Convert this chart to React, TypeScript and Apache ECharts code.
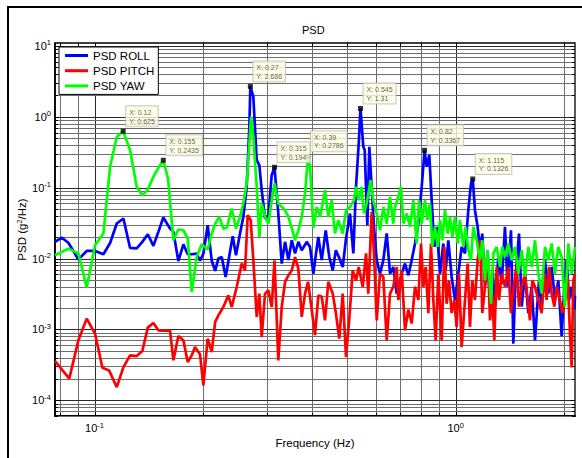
import React, { useEffect, useRef } from 'react';
import * as echarts from 'echarts';

const FONT = '"Liberation Sans", Arial, Helvetica, sans-serif';

const xMin = 0.0777;
const xMax = 2.14;
const yMin = 6e-5;
const yMax = 11;

const seriesNames = ['PSD ROLL', 'PSD PITCH', 'PSD YAW'];
const seriesColors = ['#0000FF', '#FF0000', '#00FF00'];

const rollData: [number, number][] = [
  [0.0777, 0.0172], [0.0811, 0.0198], [0.0847, 0.0166], [0.0902, 0.0097], [0.0951, 0.0128],
  [0.1003, 0.0128], [0.1058, 0.0115], [0.1104, 0.0166], [0.1152, 0.0312], [0.1202, 0.0367],
  [0.1254, 0.0141], [0.1308, 0.0139], [0.1356, 0.0172], [0.1404, 0.022], [0.1455, 0.0151],
  [0.1502, 0.0238], [0.155, 0.0379], [0.1618, 0.0265], [0.1653, 0.0238], [0.1706, 0.0092],
  [0.1762, 0.0159], [0.1811, 0.0115], [0.1858, 0.0115], [0.1918, 0.0117], [0.1959, 0.0093],
  [0.2001, 0.0117], [0.2057, 0.0295], [0.2111, 0.0093], [0.2157, 0.0067], [0.2202, 0.01],
  [0.225, 0.0105], [0.2307, 0.0055], [0.2413, 0.0207], [0.2464, 0.0111], [0.2528, 0.0226],
  [0.2582, 0.0387], [0.2638, 0.103], [0.2683, 0.72], [0.27, 2.686], [0.2752, 1.92],
  [0.2812, 0.245], [0.2859, 0.208], [0.2903, 0.092], [0.2965, 0.0367], [0.3029, 0.041],
  [0.3094, 0.15], [0.315, 0.194], [0.3227, 0.0432], [0.3298, 0.0085], [0.3369, 0.0172],
  [0.3441, 0.0095], [0.3516, 0.0181], [0.3591, 0.0118], [0.3667, 0.0172], [0.3747, 0.0131],
  [0.3868, 0.0172], [0.3951, 0.0146], [0.4035, 0.0061], [0.4104, 0.0118], [0.4165, 0.0202],
  [0.4256, 0.0095], [0.4366, 0.025], [0.4467, 0.0105], [0.4566, 0.0068], [0.4658, 0.0131],
  [0.4761, 0.0102], [0.4866, 0.0076], [0.4969, 0.0191], [0.5098, 0.0432], [0.5206, 0.0118],
  [0.5297, 0.103], [0.5389, 0.42], [0.545, 1.31], [0.5549, 0.377], [0.5598, 0.34],
  [0.5693, 0.0295], [0.5766, 0.377], [0.5853, 0.103], [0.594, 0.0275], [0.6044, 0.0095],
  [0.6172, 0.0061], [0.6304, 0.0095], [0.6442, 0.0226], [0.6579, 0.0061], [0.6718, 0.0076],
  [0.6866, 0.0032], [0.7087, 0.0061], [0.7239, 0.0085], [0.7395, 0.0058], [0.7554, 0.0095],
  [0.7716, 0.0163], [0.7882, 0.0312], [0.8052, 0.103], [0.82, 0.3367], [0.8311, 0.197],
  [0.8453, 0.29], [0.858, 0.0666], [0.8727, 0.0146], [0.8858, 0.028], [0.9048, 0.0061],
  [0.9242, 0.0163], [0.9381, 0.0068], [0.9541, 0.0181], [0.9746, 0.0055], [0.9955, 0.0026],
  [1.0169, 0.0061], [1.0388, 0.0146], [1.0611, 0.0118], [1.0839, 0.0481], [1.1025, 0.115],
  [1.115, 0.1326], [1.1308, 0.0481], [1.1503, 0.028], [1.1675, 0.0131], [1.185, 0.0225],
  [1.2054, 0.004], [1.2261, 0.0105], [1.2446, 0.0026], [1.2659, 0.0068], [1.2849, 0.0021],
  [1.3125, 0.0105], [1.3407, 0.0044], [1.3694, 0.028], [1.3929, 0.004], [1.4228, 0.0251],
  [1.4442, 0.00063], [1.466, 0.0061], [1.4975, 0.0225], [1.5232, 0.0021], [1.5558, 0.0061],
  [1.5892, 0.0017], [1.6234, 0.004], [1.6582, 0.0007], [1.701, 0.0049], [1.7302, 0.0021],
  [1.7673, 0.0095], [1.8053, 0.0032], [1.8441, 0.0076], [1.8838, 0.0026], [1.9242, 0.0049],
  [1.9656, 0.0008], [1.9992, 0.004], [2.0292, 0.0095], [2.0597, 0.0026], [2.0951, 0.004],
  [2.131, 0.0019], [2.14, 0.003],
];

const pitchData: [number, number][] = [
  [0.0777, 0.000358], [0.0851, 0.000202], [0.0902, 0.000702], [0.0951, 0.00142], [0.1003, 0.000873],
  [0.1051, 0.000288], [0.1097, 0.000264], [0.1152, 0.000153], [0.1202, 0.000294], [0.1254, 0.00043],
  [0.1308, 0.00042], [0.1356, 0.000496], [0.1404, 0.00106], [0.1455, 0.00123], [0.1502, 0.00097],
  [0.155, 0.00096], [0.1618, 0.00096], [0.1653, 0.000366], [0.1706, 0.000807], [0.1762, 0.000702],
  [0.1811, 0.000347], [0.1858, 0.00043], [0.1897, 0.000564], [0.1959, 0.000445], [0.2001, 0.000162],
  [0.2057, 0.000741], [0.2111, 0.00048], [0.2157, 0.00127], [0.2202, 0.00158], [0.2273, 0.00207],
  [0.2347, 0.00303], [0.2398, 0.00207], [0.2475, 0.00397], [0.2556, 0.0085], [0.261, 0.0068],
  [0.2655, 0.041], [0.2706, 0.0348], [0.2752, 0.0094], [0.2812, 0.0015], [0.2859, 0.0032],
  [0.2903, 0.00078], [0.2965, 0.0032], [0.3029, 0.00356], [0.3094, 0.00207], [0.315, 0.0094],
  [0.3227, 0.000366], [0.3298, 0.00207], [0.3369, 0.00467], [0.3441, 0.0058], [0.3516, 0.0068],
  [0.3591, 0.0105], [0.3667, 0.0072], [0.3747, 0.0015], [0.3827, 0.0032], [0.39, 0.0047],
  [0.3993, 0.0019], [0.4078, 0.00083], [0.4165, 0.003], [0.4256, 0.0029], [0.4347, 0.00134],
  [0.4439, 0.0047], [0.4566, 0.0032], [0.4658, 0.0017], [0.4761, 0.00074], [0.4866, 0.0032],
  [0.4969, 0.00041], [0.5075, 0.00142], [0.5186, 0.0068], [0.5297, 0.0049], [0.5389, 0.0076],
  [0.5528, 0.004], [0.5646, 0.0118], [0.5728, 0.0032], [0.5853, 0.0455], [0.594, 0.0118],
  [0.6044, 0.00134], [0.6172, 0.0061], [0.6304, 0.0055], [0.6442, 0.0007], [0.6579, 0.0032],
  [0.6718, 0.004], [0.6866, 0.0076], [0.6938, 0.0026], [0.7087, 0.0068], [0.7239, 0.00097],
  [0.7395, 0.0019], [0.7554, 0.00121], [0.7716, 0.004], [0.7882, 0.0026], [0.8017, 0.0163],
  [0.8137, 0.004], [0.8258, 0.0076], [0.84, 0.0017], [0.8544, 0.0163], [0.8672, 0.0026],
  [0.8802, 0.0007], [0.8953, 0.0061], [0.9144, 0.0007], [0.9301, 0.0146], [0.9441, 0.0023],
  [0.9582, 0.0049], [0.9746, 0.0017], [0.9913, 0.0026], [1.0062, 0.00108], [1.0213, 0.0061],
  [1.0388, 0.00056], [1.0611, 0.0026], [1.0793, 0.0085], [1.0954, 0.00108], [1.1118, 0.0049],
  [1.1308, 0.0026], [1.1503, 0.0095], [1.17, 0.0181], [1.185, 0.0017], [1.2054, 0.004],
  [1.2261, 0.0131], [1.2446, 0.00134], [1.2632, 0.0032], [1.2795, 0.0007], [1.2987, 0.0076],
  [1.3181, 0.0026], [1.3407, 0.0061], [1.3694, 0.004], [1.3988, 0.0076], [1.4228, 0.0017],
  [1.4473, 0.004], [1.4754, 0.0076], [1.4975, 0.0021], [1.5232, 0.004], [1.5558, 0.0061],
  [1.5825, 0.0026], [1.6062, 0.00134], [1.6304, 0.0049], [1.6582, 0.004], [1.6938, 0.0026],
  [1.7302, 0.0017], [1.7599, 0.0061], [1.7862, 0.0026], [1.813, 0.0076], [1.8441, 0.0032],
  [1.8757, 0.0021], [1.9039, 0.004], [1.9448, 0.0026], [1.9739, 0.0017], [2.0077, 0.0026],
  [2.0422, 0.0055], [2.0729, 0.00087], [2.0951, 0.00029], [2.1174, 0.0049], [2.14, 0.0061],
];

const yawData: [number, number][] = [
  [0.0777, 0.0111], [0.0847, 0.0138], [0.0902, 0.0118], [0.0951, 0.0039], [0.1003, 0.0154],
  [0.1058, 0.0226], [0.1104, 0.197], [0.1152, 0.52], [0.12, 0.625], [0.1254, 0.339],
  [0.1308, 0.103], [0.1356, 0.078], [0.1404, 0.094], [0.1455, 0.142], [0.1502, 0.19],
  [0.155, 0.2435], [0.1598, 0.133], [0.1653, 0.0181], [0.1706, 0.0257], [0.1762, 0.0251],
  [0.1811, 0.0191], [0.1858, 0.00337], [0.1918, 0.0105], [0.198, 0.0159], [0.2057, 0.0134],
  [0.2111, 0.0226], [0.2157, 0.031], [0.2215, 0.0387], [0.2273, 0.0265], [0.2323, 0.027],
  [0.2398, 0.0508], [0.2464, 0.0265], [0.2528, 0.0387], [0.2582, 0.0598], [0.2638, 0.115],
  [0.2683, 0.42], [0.2713, 1.0], [0.2752, 0.52], [0.2812, 0.103], [0.2859, 0.0202],
  [0.2903, 0.0598], [0.2965, 0.0387], [0.3029, 0.031], [0.3094, 0.0666], [0.315, 0.115],
  [0.3227, 0.0598], [0.3298, 0.0536], [0.3369, 0.048], [0.3441, 0.0387], [0.3516, 0.027],
  [0.3591, 0.0181], [0.3667, 0.025], [0.3747, 0.0387], [0.3827, 0.0828], [0.39, 0.2786],
  [0.3951, 0.197], [0.4035, 0.027], [0.4123, 0.0536], [0.4211, 0.0387], [0.4347, 0.092],
  [0.4439, 0.0387], [0.4536, 0.0666], [0.4632, 0.0226], [0.4731, 0.0345], [0.4866, 0.0226],
  [0.4969, 0.048], [0.5098, 0.0536], [0.5229, 0.0666], [0.5297, 0.103], [0.5389, 0.0666],
  [0.549, 0.103], [0.557, 0.0432], [0.5667, 0.0598], [0.5816, 0.128], [0.591, 0.0666],
  [0.6044, 0.0432], [0.6172, 0.025], [0.6304, 0.0536], [0.6442, 0.031], [0.6579, 0.074],
  [0.6718, 0.031], [0.6791, 0.0536], [0.6938, 0.0741], [0.7057, 0.103], [0.7163, 0.0312],
  [0.7317, 0.0432], [0.7474, 0.028], [0.7634, 0.0666], [0.7798, 0.0163], [0.7916, 0.0666],
  [0.8052, 0.0312], [0.8222, 0.0666], [0.8346, 0.0348], [0.8489, 0.0598], [0.8617, 0.0146],
  [0.8765, 0.028], [0.8915, 0.0146], [0.9048, 0.0348], [0.9183, 0.0181], [0.9341, 0.0481],
  [0.9501, 0.0225], [0.9643, 0.0387], [0.9788, 0.0202], [0.9955, 0.0387], [1.0126, 0.0163],
  [1.0278, 0.0348], [1.0499, 0.0146], [1.0656, 0.028], [1.0839, 0.0131], [1.1025, 0.0095],
  [1.1189, 0.028], [1.143, 0.0181], [1.1675, 0.0095], [1.185, 0.0181], [1.2054, 0.0049],
  [1.2261, 0.0131], [1.2525, 0.0023], [1.2713, 0.0118], [1.2987, 0.0146], [1.3265, 0.0076],
  [1.3464, 0.0146], [1.3694, 0.0105], [1.3988, 0.0163], [1.4289, 0.0095], [1.4598, 0.0146],
  [1.4911, 0.0061], [1.5232, 0.0131], [1.5558, 0.0055], [1.5892, 0.0146], [1.6234, 0.0076],
  [1.6582, 0.0181], [1.6938, 0.0061], [1.7302, 0.0032], [1.7673, 0.0146], [1.8053, 0.0095],
  [1.8441, 0.0163], [1.8838, 0.0061], [1.9242, 0.0146], [1.9656, 0.0105], [2.0077, 0.0021],
  [2.051, 0.0163], [2.0951, 0.0061], [2.14, 0.0146],
];

// Data tips (MATLAB datacursor boxes)
const tipX = [0.12, 0.155, 0.27, 0.315, 0.39, 0.545, 0.82, 1.115];
const tipY = [0.625, 0.2435, 2.686, 0.194, 0.2786, 1.31, 0.3367, 0.1326];

// Grid line positions (log axes: 1..9 x 10^n)
const xGridValues = [0.08, 0.09, 0.1, 0.2, 0.3, 0.4, 0.5, 0.6, 0.7, 0.8, 0.9, 1, 2];
const yDecades = [-5, -4, -3, -2, -1, 0, 1];
const yMultipliers = [1, 2, 3, 4, 5, 6, 7, 8, 9];

const MAJOR_GRID = '#2a2a2a';
const MINOR_GRID = '#6e6e6e';

function isDecade(v: number) {
  const l = Math.log10(v);
  return Math.abs(l - Math.round(l)) < 1e-6;
}

function powLabel(v: number) {
  if (!isDecade(v)) return '';
  const e = Math.round(Math.log10(v));
  return `{b|10}{s|${e}}`;
}

const labelRich = {
  b: { fontSize: 11, fontFamily: FONT, color: '#000', lineHeight: 14 },
  s: { fontSize: 7.5, fontFamily: FONT, color: '#000', lineHeight: 8, verticalAlign: 'top' as const },
};

export default function App() {
  const ref = useRef<HTMLDivElement>(null);
  useEffect(() => {
    if (!ref.current) return;
    const chart = echarts.init(ref.current, undefined, { renderer: 'svg' });

    const yGridValues: number[] = [];
    yDecades.forEach((d) =>
      yMultipliers.forEach((m) => {
        const v = parseFloat((m * Math.pow(10, d)).toPrecision(6));
        if (v >= yMin && v <= yMax) yGridValues.push(v);
      })
    );

    const vGridSeries = {
      type: 'custom',
      coordinateSystem: 'cartesian2d',
      silent: true,
      z: 1,
      data: xGridValues.map((v) => [v, yMin]),
      renderItem: (_p: any, api: any) => {
        const v = api.value(0);
        const t = api.coord([v, yMax]);
        const b = api.coord([v, yMin]);
        const x = Math.round(t[0]) + 0.5;
        const major = isDecade(v);
        const len = major ? 5 : 3;
        return {
          type: 'group',
          children: [
            { type: 'line', shape: { x1: x, y1: t[1], x2: x, y2: b[1] }, style: { stroke: major ? MAJOR_GRID : MINOR_GRID, lineWidth: 1 } },
            { type: 'line', shape: { x1: x, y1: b[1], x2: x, y2: b[1] - len }, style: { stroke: '#000', lineWidth: 1 } },
            { type: 'line', shape: { x1: x, y1: t[1], x2: x, y2: t[1] + len }, style: { stroke: '#000', lineWidth: 1 } },
          ],
        };
      },
    };

    const hGridSeries = {
      type: 'custom',
      coordinateSystem: 'cartesian2d',
      silent: true,
      z: 1,
      data: yGridValues.map((v) => [xMin, v]),
      renderItem: (_p: any, api: any) => {
        const v = api.value(1);
        const l = api.coord([xMin, v]);
        const r = api.coord([xMax, v]);
        const y = Math.round(l[1]) + 0.5;
        const major = isDecade(v);
        const len = major ? 5 : 3;
        return {
          type: 'group',
          children: [
            { type: 'line', shape: { x1: l[0], y1: y, x2: r[0], y2: y }, style: { stroke: major ? MAJOR_GRID : MINOR_GRID, lineWidth: 1 } },
            { type: 'line', shape: { x1: l[0], y1: y, x2: l[0] + len, y2: y }, style: { stroke: '#000', lineWidth: 1 } },
            { type: 'line', shape: { x1: r[0], y1: y, x2: r[0] - len, y2: y }, style: { stroke: '#000', lineWidth: 1 } },
          ],
        };
      },
    };

    const dataSets = [rollData, pitchData, yawData];
    const lineSeries = dataSets.map((d, i) => ({
      name: seriesNames[i],
      type: 'line',
      data: d,
      symbol: 'none',
      color: seriesColors[i],
      lineStyle: { width: 2.7, color: seriesColors[i] },
      z: 2 + i,
      clip: true,
    }));

    const tipSeries = {
      name: 'datatips',
      type: 'scatter',
      z: 10,
      data: tipX.map((x, i) => [x, tipY[i]]),
      symbol: 'rect',
      symbolSize: 5,
      itemStyle: { color: '#000' },
      label: {
        show: true,
        position: [5.5, -2.5],
        align: 'left',
        verticalAlign: 'bottom',
        formatter: (p: any) => `X: ${p.value[0]}\nY: ${p.value[1]}`,
        backgroundColor: '#FFFFE1',
        borderColor: '#BEBEBE',
        borderWidth: 1,
        padding: [2, 3, 1, 3],
        fontSize: 7,
        lineHeight: 8.5,
        color: '#333',
        fontFamily: FONT,
      },
    };

    chart.setOption({
      animation: false,
      backgroundColor: '#fff',
      title: {
        text: 'PSD',
        left: 302,
        top: 24,
        padding: 0,
        textStyle: { fontSize: 11, fontWeight: 'normal', color: '#000', fontFamily: FONT },
      },
      legend: {
        data: seriesNames,
        orient: 'vertical',
        left: 59,
        top: 47,
        icon: 'rect',
        itemWidth: 23,
        itemHeight: 3,
        itemGap: 0.2,
        padding: [1, 4, 1, 6],
        backgroundColor: '#fff',
        borderColor: '#000',
        borderWidth: 1,
        textStyle: { fontSize: 11.5, fontFamily: FONT, color: '#000', lineHeight: 15 },
      },
      graphic: [
        {
          type: 'rect',
          shape: { x: 8, y: 7, width: 700, height: 700 },
          style: { fill: 'none', stroke: '#000', lineWidth: 2 },
          silent: true,
        },
      ],
      grid: {
        left: 55,
        top: 43,
        width: 520,
        height: 373,
        show: true,
        borderColor: '#000',
        borderWidth: 1.3,
        backgroundColor: 'transparent',
      },
      xAxis: {
        type: 'log',
        logBase: 10,
        min: xMin,
        max: xMax,
        name: 'Frequency (Hz)',
        nameLocation: 'middle',
        nameGap: 21,
        nameMoveOverlap: false,
        nameTextStyle: { fontSize: 11.5, fontFamily: FONT, color: '#000' },
        axisLine: { show: true, onZero: false, lineStyle: { color: '#000', width: 2 } },
        axisTick: { show: false },
        splitLine: { show: false },
        axisLabel: { formatter: powLabel, rich: labelRich, margin: 5, color: '#000' },
      },
      yAxis: {
        type: 'log',
        logBase: 10,
        min: yMin,
        max: yMax,
        name: '{n|PSD (g}{s|2}{n|/Hz)}',
        nameLocation: 'middle',
        nameGap: 26,
        nameMoveOverlap: false,
        nameTextStyle: {
          rich: {
            n: { fontSize: 11.5, fontFamily: FONT, color: '#000', lineHeight: 14 },
            s: { fontSize: 7.5, fontFamily: FONT, color: '#000', lineHeight: 8, verticalAlign: 'top' },
          },
        },
        axisLine: { show: true, onZero: false, lineStyle: { color: '#000', width: 1.7 } },
        axisTick: { show: false },
        splitLine: { show: false },
        axisLabel: { formatter: powLabel, rich: labelRich, margin: 4, color: '#000' },
      },
      series: [vGridSeries, hGridSeries, ...lineSeries, tipSeries],
    } as any);

    return () => chart.dispose();
  }, []);

  return (
    <div
      ref={ref}
      style={{ position: 'absolute', left: 0, top: 0, width: 582, height: 458 }}
    />
  );
}
